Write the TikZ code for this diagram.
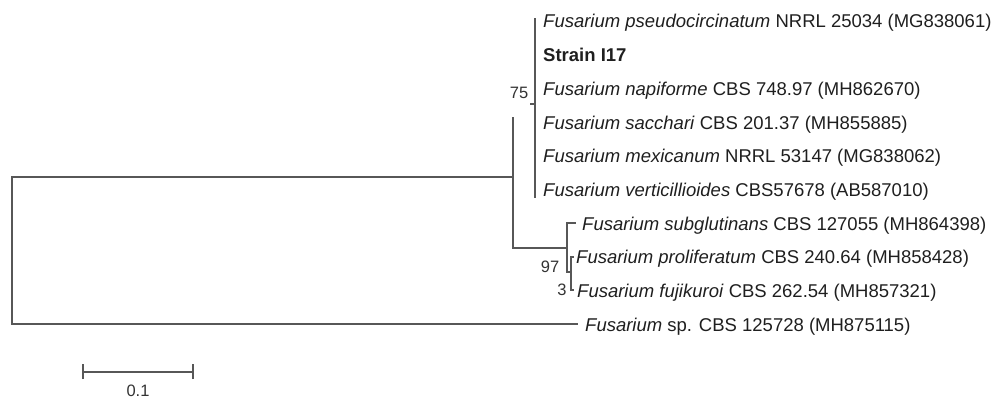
\documentclass[tikz,border=0pt]{standalone}
\usepackage{fontspec}
\setmainfont{Liberation Sans}
\begin{document}
\begin{tikzpicture}[x=1pt,y=-1pt,
  branch/.style={draw=black!66, line width=1.7pt, line cap=rect},
  leaf/.style={anchor=base west, inner sep=0pt, font=\fontsize{18.5}{20}\selectfont, text=black!88},
  boot/.style={inner sep=0pt, font=\fontsize{16.5}{18}\selectfont, text=black!80}]
\useasboundingbox (0,0) rectangle (995,401);
% leaf labels
\node[leaf] (l1) at (543,28.0) {\textit{Fusarium pseudocircinatum} NRRL 25034 (MG838061)};
\node[leaf] (l2) at (543,61.7) {\textbf{Strain I17}};
\node[leaf] (l3) at (543,95.4) {\textit{Fusarium napiforme} CBS 748.97 (MH862670)};
\node[leaf] (l4) at (543,129.1) {\textit{Fusarium sacchari} CBS 201.37 (MH855885)};
\node[leaf] (l5) at (543,162.8) {\textit{Fusarium mexicanum} NRRL 53147 (MG838062)};
\node[leaf] (l6) at (543,196.5) {\textit{Fusarium verticillioides} CBS57678 (AB587010)};
\node[leaf] (l7) at (582,230.2) {\textit{Fusarium subglutinans} CBS 127055 (MH864398)};
\node[leaf] (l8) at (576,263.9) {\textit{Fusarium proliferatum} CBS 240.64 (MH858428)};
\node[leaf] (l9) at (577,297.6) {\textit{Fusarium fujikuroi} CBS 262.54 (MH857321)};
\node[leaf] (l10) at (585,331.3) {\textit{Fusarium} sp. CBS 125728 (MH875115)};
% tree coordinates
\coordinate (rT) at (12,177);
\coordinate (rB) at (12,324);
\coordinate (A) at (513,177);
\coordinate (AT) at (513,118);
\coordinate (AB) at (513,248);
\coordinate (sp) at (577,324);
\coordinate (c75a) at (531,104);
\coordinate (c75) at (535,104);
\coordinate (c75T) at (535,19);
\coordinate (c75B) at (535,197);
\coordinate (c97) at (567,248);
\coordinate (c97T) at (567,223);
\coordinate (c97B) at (567,272);
\coordinate (sub) at (575,223);
\coordinate (c3) at (571,272);
\coordinate (c3T) at (571,257);
\coordinate (c3B) at (571,290);
\coordinate (pro) at (573,257);
\coordinate (fuj) at (573,290);
% branches
\draw[branch] (A) -- (rT) -- (rB) -- (sp);
\draw[branch] (AT) -- (AB) -- (c97);
\draw[branch] (c75a) -- (c75);
\draw[branch] (c75T) -- (c75B);
\draw[branch] (c97T) -- (c97B);
\draw[branch] (c97T) -- (sub);
\draw[branch] (c97B) -- (c3);
\draw[branch] (c3T) -- (c3B);
\draw[branch] (c3T) -- (pro);
\draw[branch] (c3B) -- (fuj);
% bootstrap values
\node[boot] (b75) at (519,93) {75};
\node[boot] (b97) at (550,267) {97};
\node[boot] (b3) at (562,290) {3};
% scale bar
\coordinate (s1) at (83,372);
\coordinate (s2) at (193,372);
\draw[branch, line cap=butt] (s1) -- (s2);
\draw[branch, line cap=butt] ([yshift=-7]s1) -- ([yshift=8]s1);
\draw[branch, line cap=butt] ([yshift=-7]s2) -- ([yshift=8]s2);
\node[boot] (scale) at (138,391) {0.1};
\end{tikzpicture}
\end{document}
